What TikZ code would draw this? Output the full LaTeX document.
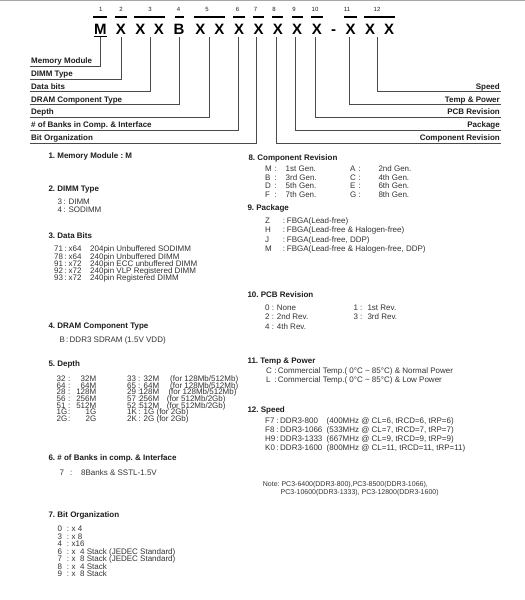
\documentclass[tikz,border=0pt]{standalone}
\usepackage{fontspec}
\setmainfont{Liberation Sans}
\frenchspacing
\definecolor{ink}{HTML}{1E1E1E}
\definecolor{bodyc}{HTML}{333333}
\definecolor{leadc}{HTML}{4A4A4A}
\begin{document}
\begin{tikzpicture}[x=1pt,y=-1pt,
  num/.style={font=\fontsize{6}{6}\selectfont, anchor=base, inner sep=0, text=ink},
  letter/.style={font=\fontsize{15}{15}\selectfont\bfseries, anchor=base, inner sep=0, text=black},
  bar/.style={line width=1.6pt, black},
  lead/.style={draw=leadc, line width=0.9pt},
  lbl/.style={font=\fontsize{8}{8}\selectfont\bfseries, inner sep=0, text=ink},
  head/.style={font=\fontsize{8}{8}\selectfont\bfseries, anchor=base west, inner sep=0, text=ink},
  body/.style={font=\fontsize{8}{8}\selectfont, anchor=base west, inner sep=0, text=bodyc},
  bodyr/.style={font=\fontsize{8}{8}\selectfont, anchor=base east, inner sep=0, text=bodyc},
  note/.style={font=\fontsize{7}{7}\selectfont, anchor=base west, inner sep=0, text=bodyc}]
\useasboundingbox (0,0) rectangle (525,600);
\fill[white] (0,0) rectangle (525,600);
\draw[black!35, line width=1pt] (0,0.5) -- (525,0.5);

% ---------- header ----------
\foreach \n/\x in {1/100.7,2/121,3/150,4/178.5,5/207,6/237.5,7/255.5,8/274,9/294,10/315,11/347,12/377}
  \node[num] (n\n) at (\x,11.6) {\n};
\foreach \a/\b in {93.3/107.3,115/127,134.3/165,174.5/183.5,194.3/225,233.3/245,252.7/264.3,272.3/283.3,291.7/302.7,311/322.7,344.3/356.7,364/395}
  \draw[bar] (\a,16.8) -- (\b,16.8);
\node[letter] (c1) at (100.3,34) {M};
\node[letter] (c2) at (121,34) {X};
\node[letter] (c3a) at (140.3,34) {X};
\node[letter] (c3b) at (159,34) {X};
\node[letter] (c4) at (179,34) {B};
\node[letter] (c5a) at (200.3,34) {X};
\node[letter] (c5b) at (219.3,34) {X};
\node[letter] (c6) at (239.2,34) {X};
\node[letter] (c7) at (258.5,34) {X};
\node[letter] (c8) at (277.8,34) {X};
\node[letter] (c9) at (297.2,34) {X};
\node[letter] (c10) at (316.8,34) {X};
\node[letter] (cd) at (333.5,34) {-};
\node[letter] (c11) at (350.5,34) {X};
\node[letter] (c12a) at (370,34) {X};
\node[letter] (c12b) at (389,34) {X};
\draw[bar] (93.5,36.3) -- (107.3,36.3);

% leader tops
\foreach \i/\x in {1/100.7,2/121.3,3/150.3,4/179.2,5/209,6/238,7/256.7,8/276,9/295.5,10/315,11/349,12/377.5}
  \coordinate (t\i) at (\x,37.2);
% left leaders
\foreach \i/\y/\t in {1/66.3/Memory Module,2/79.1/DIMM Type,3/91.9/Data bits,4/104.7/DRAM Component Type,5/117.5/Depth,6/130.3/\# of Banks in Comp. \& Interface,7/143.1/Bit Organization}{
  \coordinate (e\i) at (30,\y);
  \node[lbl, anchor=base west] (l\i) at (31,\y-2.7) {\t};
  \draw[lead] (t\i) |- (e\i);
}
% right leaders
\foreach \i/\y/\t in {8/143.1/Component Revision,9/130.3/Package,10/117.5/PCB Revision,11/104.7/Temp \& Power,12/91.9/Speed}{
  \coordinate (e\i) at (501,\y);
  \node[lbl, anchor=base east] (l\i) at (500,\y-2.7) {\t};
  \draw[lead] (t\i) |- (e\i);
}

% ---------- left column ----------
\node[head] (h1) at (48.3,158.8) {1. Memory Module : M};

\node[head] (h2) at (48.3,191.8) {2. DIMM Type};
\foreach \k/\y/\c/\t in {1/204.8/3/DIMM,2/212.1/4/SODIMM}{
  \node[body] (a\k) at (57.3,\y) {\c};
  \node[body] (ac\k) at (63.3,\y) {:};
  \node[body] (at\k) at (68.3,\y) {\t};
}

\node[head] (h3) at (48.3,238.1) {3. Data Bits};
\foreach \k/\y/\c/\w/\t in {1/251.8/71/x64/204pin Unbuffered SODIMM,2/259.0/78/x64/240pin Unbuffered DIMM,3/266.2/91/x72/240pin ECC unbuffered DIMM,4/273.4/92/x72/240pin VLP Registered DIMM,5/280.6/93/x72/240pin Registered DIMM}{
  \node[body] (b\k) at (54,\y) {\c};
  \node[body] (bc\k) at (64.2,\y) {:};
  \node[body] (bw\k) at (68.5,\y) {\w};
  \node[body] (bt\k) at (90,\y) {\t};
}

\node[head] (h4) at (48.3,328.8) {4. DRAM Component Type};
\node[body] (d1) at (59.3,342.1) {B};
\node[body] (dc1) at (66,342.1) {:};
\node[body] (dt1) at (69.5,342.1) {DDR3 SDRAM (1.5V VDD)};

\node[head] (h5) at (48.3,366.8) {5. Depth};
\foreach \k/\y/\c/\v in {1/381.5/32/32M,2/388.2/64/64M,3/394.8/28/128M,4/401.5/56/256M,5/408.2/51/512M,6/414.8/1G/1G,7/421.5/2G/2G}{
  \node[body] (p\k) at (56.5,\y) {\c};
  \node[body] (pc\k) at (68,\y) {:};
  \node[bodyr] (pv\k) at (96.5,\y) {\v};
}
\foreach \k/\y/\c/\v/\px/\f in {1/381.5/33/32M/170/{(for 128Mb/512Mb)},2/388.2/65/64M/170/{(for 128Mb/512Mb)},3/394.8/29/128M/168.3/{(for 128Mb/512Mb)},4/401.5/57/256M/166.7/{(for 512Mb/2Gb)},5/408.2/52/512M/166.7/{(for 512Mb/2Gb)}}{
  \node[body] (q\k) at (127,\y) {\c};
  \node[body] (qc\k) at (138,\y) {:};
  \node[bodyr] (qv\k) at (159.5,\y) {\v};
  \node[body] (qf\k) at (\px,\y) {\f};
}
\foreach \k/\y/\c/\v in {6/414.8/1K/1G,7/421.5/2K/2G}{
  \node[body] (q\k) at (127,\y) {\c};
  \node[body] (qc\k) at (138.5,\y) {:};
  \node[body] (qv\k) at (143.5,\y) {\v\ (for 2Gb)};
}

\node[head] (h6) at (48.3,460.1) {6. \# of Banks in comp. \& Interface};
\node[body] (k1) at (59.3,475.5) {7};
\node[body] (kc1) at (70,475.5) {:};
\node[body] (kt1) at (81,475.5) {8Banks \& SSTL-1.5V};

\node[head] (h7) at (48.3,517.1) {7. Bit Organization};
\foreach \k/\y/\c/\t in {1/531.5/0/x 4,2/539.05/3/x 8,3/546.6/4/x16,4/554.15/6/x\hspace{4.5pt}4 Stack (JEDEC Standard),5/561.7/7/x\hspace{4.5pt}8 Stack (JEDEC Standard),6/569.25/8/x\hspace{4.5pt}4 Stack,7/576.8/9/x\hspace{4.5pt}8 Stack}{
  \node[body] (o\k) at (57.3,\y) {\c};
  \node[body] (oc\k) at (66.7,\y) {:};
  \node[body] (ot\k) at (71.5,\y) {\t};
}

% ---------- right column ----------
\node[head] (h8) at (248.3,160.1) {8. Component Revision};
\foreach \k/\y/\c/\t/\d/\u in {1/171.1/M/1st/A/2nd,2/180/B/3rd/C/4th,3/188.9/D/5th/E/6th,4/197.8/F/7th/G/8th}{
  \node[body] (r\k) at (265,\y) {\c};
  \node[body] (rc\k) at (274.3,\y) {:};
  \node[body] (rt\k) at (285.5,\y) {\t\ Gen.};
  \node[body] (s\k) at (350,\y) {\d};
  \node[body] (sc\k) at (358.3,\y) {:};
  \node[body] (st\k) at (378.3,\y) {\u\ Gen.};
}

\node[head] (h9) at (247.3,210.1) {9. Package};
\foreach \k/\y/\c/\t in {1/223.5/Z/FBGA(Lead-free),2/232.8/H/FBGA(Lead-free \& Halogen-free),3/242.1/J/FBGA(Lead-free{,} DDP),4/251.4/M/FBGA(Lead-free \& Halogen-free{,} DDP)}{
  \node[body] (g\k) at (265,\y) {\c};
  \node[body] (gc\k) at (282.7,\y) {:};
  \node[body] (gt\k) at (286.7,\y) {\t};
}

\node[head] (h10) at (247.3,297.8) {10. PCB Revision};
\foreach \k/\y/\c/\t in {1/310.1/0/None,2/319.6/2/2nd Rev.,3/329.1/4/4th Rev.}{
  \node[body] (v\k) at (265,\y) {\c};
  \node[body] (vc\k) at (271.7,\y) {:};
  \node[body] (vt\k) at (276.7,\y) {\t};
}
\foreach \k/\y/\c/\t in {1/310.1/1/1st Rev.,2/319.6/3/3rd Rev.}{
  \node[body] (w\k) at (353.3,\y) {\c};
  \node[body] (wc\k) at (360,\y) {:};
  \node[body] (wt\k) at (367.3,\y) {\t};
}

\node[head] (h11) at (247.3,363.8) {11. Temp \& Power};
\foreach \k/\y/\c/\t in {1/373.5/C/Normal,2/382.8/L/Low}{
  \node[body] (m\k) at (266,\y) {\c};
  \node[body] (mc\k) at (274.3,\y) {:};
  \node[body] (mt\k) at (277.7,\y) {Commercial Temp.( 0°C \textasciitilde{} 85°C) \& \t\ Power};
}

\node[head] (h12) at (247.3,412.1) {12. Speed};
\foreach \k/\y/\c/\d/\t in {1/423.8/F7/DDR3-800/(400MHz @ CL=6{,} tRCD=6{,} tRP=6),2/432.7/F8/DDR3-1066/(533MHz @ CL=7{,} tRCD=7{,} tRP=7),3/441.6/H9/DDR3-1333/(667MHz @ CL=9{,} tRCD=9{,} tRP=9),4/450.5/K0/DDR3-1600/(800MHz @ CL=11{,} tRCD=11{,} tRP=11)}{
  \node[body] (f\k) at (265,\y) {\c};
  \node[body] (fc\k) at (276.2,\y) {:};
  \node[body] (fd\k) at (280,\y) {\d};
  \node[body] (ft\k) at (326.5,\y) {\t};
}

\node[note] (nt1) at (262.7,486.5) {Note: PC3-6400(DDR3-800),PC3-8500(DDR3-1066),};
\node[note] (nt2) at (280.5,494.2) {PC3-10600(DDR3-1333), PC3-12800(DDR3-1600)};
\end{tikzpicture}
\end{document}
